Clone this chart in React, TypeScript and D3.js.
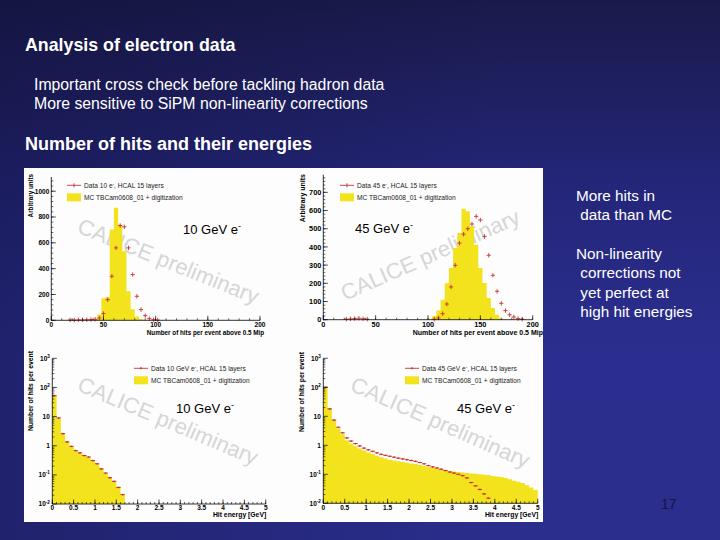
import React from "react";
import * as d3 from "d3";

// ---------------- data ----------------
const hitBinWidth = 4;
const hits10McCenters = [42, 46, 50, 54, 58, 62, 66, 70, 74, 78, 82, 86];
const hits10McValues = [8, 45, 170, 180, 703, 871, 740, 535, 225, 85, 30, 8];
const hits10DataCenters = [18, 22, 26, 30, 34, 38, 42, 46, 50, 54, 58, 62, 66, 70, 74, 78, 82, 86, 90, 94, 98, 102];
const hits10DataValues = [3, 2, 4, 3, 5, 6, 8, 18, 52, 160, 341, 561, 734, 724, 561, 354, 186, 83, 36, 13, 5, 2];

const hits45McCenters = [102, 106, 110, 114, 118, 122, 126, 130, 134, 138, 142, 146, 150, 154, 158, 162, 166, 170];
const hits45McValues = [5, 20, 50, 110, 200, 284, 394, 476, 610, 596, 513, 412, 284, 202, 119, 64, 27, 6];
const hits45DataCenters = [22, 26, 30, 34, 38, 42, 106, 110, 114, 118, 122, 126, 130, 134, 138, 142, 146, 150, 154, 158, 162, 166, 170, 174, 178, 182, 186, 190];
const hits45DataValues = [3, 5, 6, 8, 5, 3, 3, 10, 33, 86, 180, 299, 421, 470, 500, 526, 568, 548, 458, 354, 244, 156, 90, 50, 27, 15, 6, 3];

const energyBinWidth = 0.1;
const energy10McValues = [55, 8.7, 2.5, 1.4, 0.92, 0.71, 0.55, 0.48, 0.4, 0.32, 0.23, 0.17, 0.11, 0.082, 0.058, 0.039, 0.022];
const energy10DataValues = [52, 9.0, 2.6, 1.35, 0.95, 0.68, 0.57, 0.46, 0.41, 0.31, 0.24, 0.16, 0.115, 0.08, 0.06, 0.037, 0.021];
const energy45McValues = [
  105, 19, 7.5, 3.9, 2.4, 1.5, 1.15, 0.92, 0.78, 0.66,
  0.56, 0.5, 0.44, 0.39, 0.35, 0.32, 0.3, 0.28, 0.265, 0.25,
  0.235, 0.225, 0.21, 0.195, 0.18, 0.17, 0.16, 0.15, 0.14, 0.13,
  0.125, 0.12, 0.115, 0.11, 0.107, 0.104, 0.1, 0.097, 0.094, 0.088,
  0.084, 0.08, 0.075, 0.068, 0.06, 0.055, 0.05, 0.042, 0.035, 0.029,
];
const energy45DataValues = [
  100, 18, 7.4, 4.2, 2.7, 1.8, 1.4, 1.15, 0.95, 0.8,
  0.7, 0.62, 0.55, 0.49, 0.45, 0.42, 0.39, 0.36, 0.34, 0.32,
  0.3, 0.28, 0.255, 0.23, 0.2, 0.18, 0.165, 0.15, 0.135, 0.12,
  0.11, 0.1, 0.09, 0.075, 0.052, 0.04, 0.03, 0.021, 0.015,
];

const hitXTicks = [0, 50, 100, 150, 200];
const hits10YTicks = [0, 200, 400, 600, 800, 1000];
const hits45YTicks = [0, 100, 200, 300, 400, 500, 600, 700];
const energyXTicks = [0, 0.5, 1, 1.5, 2, 2.5, 3, 3.5, 4, 4.5, 5];
const energyYExps = [-2, -1, 0, 1, 2, 3];

const slideTitle = "Analysis of electron data";
const bullets = ["Important cross check before tackling hadron data", "More sensitive to SiPM non-linearity corrections"];
const sectionTitle = "Number of hits and their energies";
const sideNotes = ["More hits in", " data than MC", "", "Non-linearity", " corrections not", " yet perfect at", " high hit energies"];
const mcLegend = "MC TBCam0608_01 + digitization";

// ---------------- style ----------------
const FONT = "'Liberation Sans', Arial, Helvetica, sans-serif";
const YELLOW = "#f2e31c";
const RED = "#c73232";
const WM = "#d6d6d6";

type Scale = (v: number) => number;

function stepArea(x: Scale, y: Scale, centers: number[], w: number, vals: number[], base: number) {
  const pts: [number, number][] = [];
  centers.forEach((c, i) => {
    pts.push([c - w / 2, vals[i]]);
    pts.push([c + w / 2, vals[i]]);
  });
  return d3
    .area<[number, number]>()
    .x((d) => x(d[0]))
    .y0(y(base))
    .y1((d) => y(Math.max(d[1], base)))(pts) as string;
}

function Crosses({ x, y, centers, vals, w }: any) {
  return (
    <g stroke={RED} strokeWidth={0.9}>
      {centers.map((c: number, i: number) => (
        <g key={i}>
          <line x1={x(c - w / 2)} x2={x(c + w / 2)} y1={y(vals[i])} y2={y(vals[i])} />
          <line x1={x(c)} x2={x(c)} y1={y(vals[i]) - 2.2} y2={y(vals[i]) + 2.2} />
        </g>
      ))}
    </g>
  );
}

function Dashes({ x, y, centers, vals, w }: any) {
  return (
    <g stroke={RED} strokeWidth={1} fill={RED}>
      {centers.map((c: number, i: number) => (
        <g key={i}>
          <line x1={x(c - w / 2)} x2={x(c + w / 2)} y1={y(vals[i])} y2={y(vals[i])} />
          <circle cx={x(c)} cy={y(vals[i])} r={0.85} stroke="none" />
        </g>
      ))}
    </g>
  );
}

function LinearAxes({ x, y, xTicks, xMinorStep, yTicks, yMinorStep, yMax, tickFont, xTitle, yTitle, titleFont, xTitleEnd, xTitleY, yTitleX, yTitleTop, xLabelDy }: any) {
  const [x0, x1] = x.range();
  const yb = y(0);
  const yt = y(yMax);
  const xMinor = d3.range(x.domain()[0], x.domain()[1] + 1e-9, xMinorStep);
  const yMinor = d3.range(0, yMax, yMinorStep);
  return (
    <g fontFamily={FONT} fill="#000">
      <line x1={x0} x2={x1} y1={yb} y2={yb} stroke="#000" strokeWidth={0.8} />
      <line x1={x0} x2={x0} y1={yb} y2={yt} stroke="#000" strokeWidth={0.8} />
      {xMinor.map((t: number, i: number) => (
        <line key={"xm" + i} x1={x(t)} x2={x(t)} y1={yb} y2={yb - 2} stroke="#000" strokeWidth={0.6} />
      ))}
      {xTicks.map((t: number) => (
        <g key={"x" + t}>
          <line x1={x(t)} x2={x(t)} y1={yb} y2={yb - 4.5} stroke="#000" strokeWidth={0.7} />
          <text x={x(t)} y={yb + xLabelDy} fontSize={tickFont} fontWeight="bold" textAnchor="middle">{t}</text>
        </g>
      ))}
      {yMinor.map((t: number, i: number) => (
        <line key={"ym" + i} x1={x0} x2={x0 + 2} y1={y(t)} y2={y(t)} stroke="#000" strokeWidth={0.6} />
      ))}
      {yTicks.map((t: number) => (
        <g key={"y" + t}>
          <line x1={x0} x2={x0 + 4.5} y1={y(t)} y2={y(t)} stroke="#000" strokeWidth={0.7} />
          <text x={x0 - 2} y={y(t) + tickFont * 0.36} fontSize={tickFont} fontWeight="bold" textAnchor="end">{t}</text>
        </g>
      ))}
      <text x={xTitleEnd} y={xTitleY} fontSize={titleFont} fontWeight="bold" textAnchor="end">{xTitle}</text>
      <text transform={`translate(${yTitleX},${yTitleTop}) rotate(-90)`} fontSize={titleFont} fontWeight="bold" textAnchor="end">{yTitle}</text>
    </g>
  );
}

function LogAxes({ x, y, tickFont, titleFont, xTitleY, yTitleX, yTitleTop, xLabelDy }: any) {
  const [x0, x1] = x.range();
  const yb = y(1e-2);
  const yt = y(1e3);
  const xMinor = d3.range(0, 5.0001, 0.1);
  const yMinor: number[] = [];
  energyYExps.slice(0, -1).forEach((e) => {
    for (let k = 2; k <= 9; k++) yMinor.push(k * Math.pow(10, e));
  });
  return (
    <g fontFamily={FONT} fill="#000">
      <line x1={x0} x2={x1} y1={yb} y2={yb} stroke="#000" strokeWidth={0.8} />
      <line x1={x0} x2={x0} y1={yb} y2={yt} stroke="#000" strokeWidth={0.8} />
      {xMinor.map((t: number, i: number) => (
        <line key={"xm" + i} x1={x(t)} x2={x(t)} y1={yb} y2={yb - 2} stroke="#000" strokeWidth={0.6} />
      ))}
      {energyXTicks.map((t: number) => (
        <g key={"x" + t}>
          <line x1={x(t)} x2={x(t)} y1={yb} y2={yb - 4.5} stroke="#000" strokeWidth={0.7} />
          <text x={x(t)} y={yb + xLabelDy} fontSize={tickFont} fontWeight="bold" textAnchor="middle">{t}</text>
        </g>
      ))}
      {yMinor.map((t: number, i: number) => (
        <line key={"ym" + i} x1={x0} x2={x0 + 2} y1={y(t)} y2={y(t)} stroke="#000" strokeWidth={0.6} />
      ))}
      {energyYExps.map((e: number) => (
        <g key={"y" + e}>
          <line x1={x0} x2={x0 + 4.5} y1={y(Math.pow(10, e))} y2={y(Math.pow(10, e))} stroke="#000" strokeWidth={0.7} />
          <text x={x0 - 2.5} y={y(Math.pow(10, e)) + tickFont * 0.36} fontSize={tickFont} fontWeight="bold" textAnchor="end">
            {e === 0 ? "1" : "10"}
            {e !== 0 && e !== 1 ? <tspan dy={-2.8} fontSize={tickFont * 0.7}>{e < 0 ? "-" + -e : e}</tspan> : null}
          </text>
        </g>
      ))}
      <text x={x1 + 0.5} y={xTitleY} fontSize={titleFont} fontWeight="bold" textAnchor="end">Hit energy [GeV]</text>
      <text transform={`translate(${yTitleX},${yTitleTop}) rotate(-90)`} fontSize={titleFont} fontWeight="bold" textAnchor="end">Number of hits per event</text>
    </g>
  );
}

function Legend({ x, y, dataLabel, crossMarker }: any) {
  return (
    <g fontFamily={FONT} fontSize={6.6} fill="#222">
      <line x1={x} x2={x + 14} y1={y} y2={y} stroke={RED} strokeWidth={0.9} />
      {crossMarker ? (
        <line x1={x + 7} x2={x + 7} y1={y - 2} y2={y + 2} stroke={RED} strokeWidth={0.9} />
      ) : (
        <circle cx={x + 7} cy={y} r={1} fill={RED} />
      )}
      <text x={x + 17} y={y + 2.3}>{dataLabel}</text>
      <rect x={x} y={y + 8} width={14} height={8} fill={YELLOW} />
      <text x={x + 17} y={y + 14.3}>{mcLegend}</text>
    </g>
  );
}

function DataLabel({ x, y, text }: any) {
  return (
    <text x={x} y={y} fontFamily={FONT} fontSize={13} fill="#000">
      {text}
      <tspan dy={-5} fontSize={9}>-</tspan>
    </text>
  );
}

function Watermark({ x, y, angle }: any) {
  return (
    <text transform={`translate(${x},${y}) rotate(${angle})`} fontFamily={FONT} fontSize={22} fill={WM}>
      CALICE preliminary
    </text>
  );
}

export default function App() {
  // panel 1: hits 10 GeV
  const x1 = d3.scaleLinear().domain([0, 200]).range([51.3, 260]);
  const y1 = d3.scaleLinear().domain([0, 1110]).range([320.3, 177]);
  // panel 2: hits 45 GeV
  const x2 = d3.scaleLinear().domain([0, 200]).range([323.3, 532.7]);
  const y2 = d3.scaleLinear().domain([0, 797]).range([319.7, 174.7]);
  // panel 3: energy 10 GeV
  const x3 = d3.scaleLinear().domain([0, 5]).range([52.3, 265.7]);
  const y3 = d3.scaleLog().domain([1e-2, 1e3]).range([504, 358.3]);
  // panel 4: energy 45 GeV
  const x4 = d3.scaleLinear().domain([0, 5]).range([323.3, 537.7]);
  const y4 = d3.scaleLog().domain([1e-2, 1e3]).range([503.3, 358.3]);

  const e10Centers = energy10McValues.map((_, i) => (i + 0.5) * energyBinWidth);
  const e10DataCenters = energy10DataValues.map((_, i) => (i + 0.5) * energyBinWidth);
  const e45Centers = energy45McValues.map((_, i) => (i + 0.5) * energyBinWidth);
  const e45DataCenters = energy45DataValues.map((_, i) => (i + 0.5) * energyBinWidth);

  return (
    <svg width={720} height={540} style={{ position: "absolute", left: 0, top: 0, display: "block" }} fontFamily={FONT}>
      <defs>
        <linearGradient id="bgv" x1="0" y1="0" x2="0" y2="1">
          <stop offset="0" stopColor="#1a1a4a" />
          <stop offset="0.35" stopColor="#24267a" />
          <stop offset="0.65" stopColor="#2b2e8e" />
          <stop offset="1" stopColor="#2b2e8d" />
        </linearGradient>
        <linearGradient id="bgh" x1="0" y1="0" x2="1" y2="0">
          <stop offset="0" stopColor="#0c0c30" stopOpacity="0.35" />
          <stop offset="0.7" stopColor="#0c0c30" stopOpacity="0" />
        </linearGradient>
      </defs>
      <rect x={0} y={0} width={720} height={540} fill="url(#bgv)" />
      <rect x={0} y={0} width={720} height={540} fill="url(#bgh)" />

      {/* header */}
      <text x={25} y={51} fontSize={17.8} fontWeight="bold" fill="#fff">{slideTitle}</text>
      {bullets.map((b, i) => (
        <text key={i} x={34} y={89.5 + i * 19} fontSize={15.8} fill="#fff">{b}</text>
      ))}
      <text x={25} y={150} fontSize={18} fontWeight="bold" fill="#fff">{sectionTitle}</text>

      {/* side notes */}
      {sideNotes.map((s, i) => (
        <text key={i} x={576} y={201 + i * 19.3} fontSize={15.3} fill="#fff" style={{ whiteSpace: "pre" }}>{s}</text>
      ))}

      {/* white figure area */}
      <rect x={24} y={168} width={519} height={354} fill="#fdfdfd" />

      {/* Panel 1 */}
      <Watermark x={76} y={232} angle={22} />
      <path d={stepArea(x1, y1, hits10McCenters, hitBinWidth, hits10McValues, 0)} fill={YELLOW} />
      <Crosses x={x1} y={y1} centers={hits10DataCenters} vals={hits10DataValues} w={hitBinWidth} />
      <LinearAxes x={x1} y={y1} xTicks={hitXTicks} xMinorStep={10} yTicks={hits10YTicks} yMinorStep={40} yMax={1110}
        tickFont={6.5} titleFont={6.3} xTitle="Number of hits per event above 0.5 Mip" yTitle="Arbitrary units"
        xTitleEnd={264} xTitleY={334.5} yTitleX={32.5} yTitleTop={174} xLabelDy={6.5} />
      <Legend x={67} y={185.3} dataLabel={<>Data 10 e<tspan dy={-2} fontSize={4.5}>-</tspan><tspan dy={2}>, HCAL 15 layers</tspan></>} crossMarker />
      <DataLabel x={183} y={234} text="10 GeV e" />

      {/* Panel 2 */}
      <Watermark x={345} y={301} angle={-24} />
      <path d={stepArea(x2, y2, hits45McCenters, hitBinWidth, hits45McValues, 0)} fill={YELLOW} />
      <Crosses x={x2} y={y2} centers={hits45DataCenters} vals={hits45DataValues} w={hitBinWidth} />
      <LinearAxes x={x2} y={y2} xTicks={hitXTicks} xMinorStep={10} yTicks={hits45YTicks} yMinorStep={20} yMax={797}
        tickFont={7.3} titleFont={7} xTitle="Number of hits per event above 0.5 Mip" yTitle="Arbitrary units"
        xTitleEnd={543} xTitleY={334.5} yTitleX={304.5} yTitleTop={174} xLabelDy={7.3} />
      <Legend x={340} y={185.3} dataLabel={<>Data 45 e<tspan dy={-2} fontSize={4.5}>-</tspan><tspan dy={2}>, HCAL 15 layers</tspan></>} crossMarker />
      <DataLabel x={355} y={233} text="45 GeV e" />

      {/* Panel 3 */}
      <Watermark x={76} y={390} angle={23} />
      <path d={stepArea(x3, y3, e10Centers, energyBinWidth, energy10McValues, 1e-2)} fill={YELLOW} />
      <Dashes x={x3} y={y3} centers={e10DataCenters} vals={energy10DataValues} w={energyBinWidth} />
      <LogAxes x={x3} y={y3} tickFont={6.5} titleFont={6.8} xTitleY={516.5} yTitleX={32.5} yTitleTop={351} xLabelDy={6.2} />
      <Legend x={134} y={368.3} dataLabel={<>Data 10 GeV e<tspan dy={-2} fontSize={4.5}>-</tspan><tspan dy={2}>, HCAL 15 layers</tspan></>} />
      <DataLabel x={176} y={412.7} text="10 GeV e" />

      {/* Panel 4 */}
      <Watermark x={349} y={390} angle={24} />
      <path d={stepArea(x4, y4, e45Centers, energyBinWidth, energy45McValues, 1e-2)} fill={YELLOW} />
      <Dashes x={x4} y={y4} centers={e45DataCenters} vals={energy45DataValues} w={energyBinWidth} />
      <LogAxes x={x4} y={y4} tickFont={6.5} titleFont={6.8} xTitleY={516.5} yTitleX={304} yTitleTop={352} xLabelDy={6.5} />
      <Legend x={405} y={368.3} dataLabel={<>Data 45 GeV e<tspan dy={-2} fontSize={4.5}>-</tspan><tspan dy={2}>, HCAL 15 layers</tspan></>} />
      <DataLabel x={457} y={412.7} text="45 GeV e" />

      {/* page number */}
      <text x={661} y={509} fontSize={14} fill="#15163a">17</text>
    </svg>
  );
}
